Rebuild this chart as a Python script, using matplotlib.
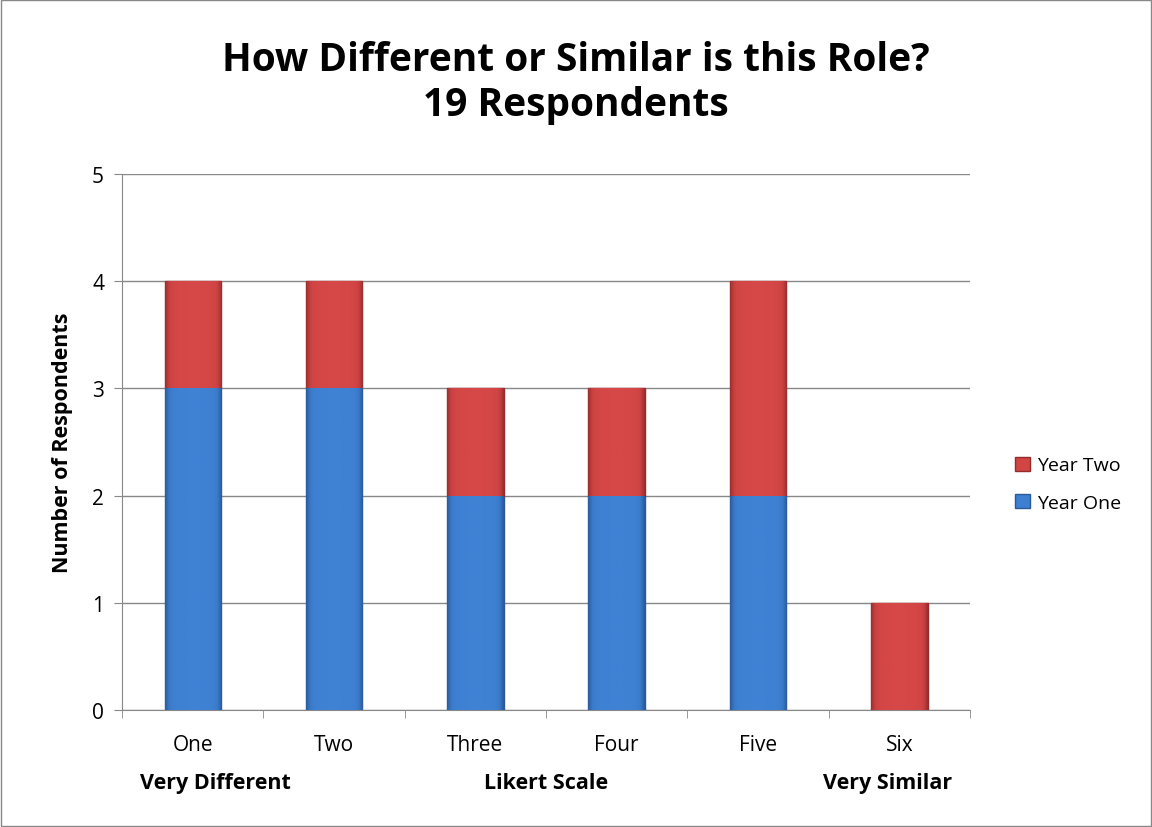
import numpy as np
import matplotlib.pyplot as plt
from matplotlib.patches import Rectangle
from matplotlib.colors import LinearSegmentedColormap

categories = ['One', 'Two', 'Three', 'Four', 'Five', 'Six']
year_one = [3, 3, 2, 2, 2, 0]
year_two = [1, 1, 1, 1, 2, 1]

plt.rcParams['font.family'] = ['Open Sans', 'DejaVu Sans']

fig = plt.figure(figsize=(11.52, 8.28), dpi=100)
ax = fig.add_axes([0.106, 0.1413, 0.736, 0.6473])

x = np.arange(len(categories))
blue = '#3d7fd0'
red = '#d24545'
b1 = ax.bar(x, year_one, width=0.4, color=blue, edgecolor='#2a5a9a', linewidth=1.0,
            label='Year One', zorder=3)
b2 = ax.bar(x, year_two, width=0.4, bottom=year_one, color=red, edgecolor='#952b2b',
            linewidth=1.0, label='Year Two', zorder=3)

# soft bevel shading across each bar
t = np.linspace(0, 1, 64)
profile = 1 - np.abs(2 * t - 1) ** 4
shade = profile[np.newaxis, :]
cmaps = {
    'b': LinearSegmentedColormap.from_list('b', ['#2b5c9e', '#3b7bcb', '#3f82d4']),
    'r': LinearSegmentedColormap.from_list('r', ['#9e2f2f', '#cc4242', '#d64848']),
}
for bars, key in [(b1, 'b'), (b2, 'r')]:
    for p in bars:
        if p.get_height() <= 0:
            continue
        x0, y0 = p.get_x(), p.get_y()
        im = ax.imshow(shade, cmap=cmaps[key], vmin=0, vmax=1, aspect='auto',
                       extent=(x0, x0 + p.get_width(), y0, y0 + p.get_height()),
                       zorder=3.5, interpolation='bilinear')
        im.set_clip_path(p)

ax.set_xlim(-0.5, len(categories) - 0.5)
ax.set_ylim(0, 5)
ax.set_yticks(range(6))
ax.set_xticks(x)
ax.set_xticklabels(categories, fontsize=15)
ax.set_xticks(np.arange(-0.5, len(categories) + 0.5, 1), minor=True)
ax.tick_params(axis='x', which='major', length=0, pad=17)
ax.tick_params(axis='x', which='minor', length=6, color='#888888', direction='out')
ax.tick_params(axis='y', labelsize=15, length=6, color='#888888', direction='out', pad=7)
ax.grid(axis='y', color='#888888', linewidth=1.0, zorder=0)

for side in ['top', 'right']:
    ax.spines[side].set_visible(False)
for side in ['left', 'bottom']:
    ax.spines[side].set_color('#888888')

ax.set_ylabel('Number of Respondents', fontsize=15.5, fontweight='bold', va='center')
ax.yaxis.set_label_coords(-0.07, 0.5)

for xpos, txt in [(0.11, 'Very Different'), (0.5, 'Likert Scale'), (0.903, 'Very Similar')]:
    ax.text(xpos, -0.135, txt, transform=ax.transAxes, ha='center', va='center',
            fontsize=15.5, fontweight='bold')

fig.text(0.5, 0.927, 'How Different or Similar is this Role?', ha='center', va='center',
         fontsize=28, fontweight='bold')
fig.text(0.5, 0.873, '19 Respondents', ha='center', va='center',
         fontsize=28, fontweight='bold')

handles = [b2, b1]
leg = fig.legend(handles, ['Year Two', 'Year One'], loc='center left',
                 bbox_to_anchor=(0.866, 0.414), frameon=False, fontsize=14,
                 handlelength=0.75, handleheight=0.75, handletextpad=0.4, labelspacing=1.0)

fig.patches.append(Rectangle((0.001, 0.001), 0.998, 0.998, transform=fig.transFigure,
                             fill=False, edgecolor='#888888', linewidth=1.0))

fig.savefig('out.png', dpi=100)
